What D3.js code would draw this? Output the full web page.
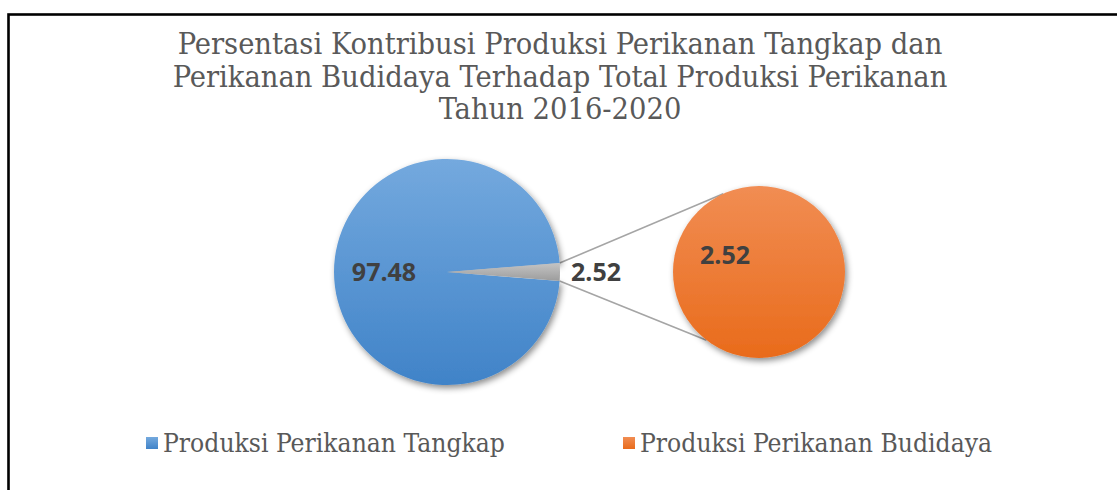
<!DOCTYPE html>
<html><head><meta charset="utf-8">
<script src="https://cdn.jsdelivr.net/npm/d3@7"></script>
<style>html,body{margin:0;padding:0;background:#fff;overflow:hidden}</style>
</head><body>
<svg id="c" width="1117" height="490"></svg>
<script>
const titleLines = ["Persentasi Kontribusi Produksi Perikanan Tangkap dan",
  "Perikanan Budidaya Terhadap Total Produksi Perikanan",
  "Tahun 2016-2020"];
const categories = ["Produksi Perikanan Tangkap", "Produksi Perikanan Budidaya"];
const mainValues = [97.48, 2.52];
const secondaryValues = [2.52];

const svg = d3.select("#c");
const defs = svg.append("defs");

function linGrad(id, c1, c2) {
  const g = defs.append("linearGradient").attr("id", id).attr("x1", 0).attr("y1", 0).attr("x2", 0).attr("y2", 1);
  g.append("stop").attr("offset", "0%").attr("stop-color", c1);
  g.append("stop").attr("offset", "100%").attr("stop-color", c2);
}
linGrad("gBlue", "#74a9de", "#4083c8");
linGrad("gOrange", "#f18d53", "#e96b1b");
linGrad("gGray", "#c4c4c4", "#9c9c9c");
const f = defs.append("filter").attr("id", "sh").attr("x", "-20%").attr("y", "-20%").attr("width", "140%").attr("height", "140%");
f.append("feDropShadow").attr("dx", 2).attr("dy", 3).attr("stdDeviation", 3).attr("flood-color", "#000").attr("flood-opacity", 0.45);

// frame
svg.append("rect").attr("x", 8.5).attr("y", 14.5).attr("width", 1200).attr("height", 600)
  .attr("fill", "none").attr("stroke", "#000").attr("stroke-width", 2.6);

// title
const titleFont = "'DejaVu Serif Condensed', 'DejaVu Serif', serif";
const tg = svg.append("g");
const tTexts = tg.selectAll("text").data(titleLines).join("text")
  .attr("x", 560).attr("y", (d, i) => 54 + i * 32.5)
  .attr("text-anchor", "middle").attr("fill", "#595959")
  .style("font-family", titleFont).style("font-stretch", "condensed").style("font-size", "24px").text(d => d);
const w0 = tTexts.nodes()[0].getComputedTextLength();
const tSize = 24 * 765 / w0;
tTexts.style("font-size", tSize + "px");

// main pie
const color = d3.scaleOrdinal().domain(["a", "b", "s"]).range(["url(#gBlue)", "url(#gGray)", "url(#gOrange)"]);
const cx1 = 447, cy1 = 272, r1 = 113;
const frac = mainValues[1] / d3.sum(mainValues);
const half = frac * Math.PI;
const a0 = Math.PI / 2 + half;
const pie = d3.pie().sort(null).startAngle(a0).endAngle(a0 + 2 * Math.PI);
const arcs = pie(mainValues);
const arc1 = d3.arc().innerRadius(0).outerRadius(r1);

const cx2 = 759, cy2 = 272, r2 = 86;

// connector lines
const sliceSmall = arcs[1];
const pt = (cx, cy, r, ang) => [cx + r * Math.sin(ang), cy - r * Math.cos(ang)];
const pTop = pt(cx1, cy1, r1, sliceSmall.startAngle);
const pBot = pt(cx1, cy1, r1, sliceSmall.endAngle);
const qT = pt(cx2, cy2, r2, (-24.5) * Math.PI / 180);
const qB = pt(cx2, cy2, r2, (-142.4) * Math.PI / 180);
svg.append("g").selectAll("line").data([[pTop, qT], [pBot, qB]]).join("line")
  .attr("x1", d => d[0][0]).attr("y1", d => d[0][1])
  .attr("x2", d => d[1][0]).attr("y2", d => d[1][1])
  .attr("stroke", "#a5a5a5").attr("stroke-width", 1.6);

const g1 = svg.append("g").attr("transform", `translate(${cx1},${cy1})`);
g1.selectAll("path").data(arcs).join("path")
  .attr("d", arc1).attr("fill", (d, i) => color(i === 0 ? "a" : "b"))
  .attr("filter", (d, i) => i === 0 ? "url(#sh)" : null);

// secondary pie
const pie2 = d3.pie().sort(null);
const arcs2 = pie2(secondaryValues);
const g2 = svg.append("g").attr("transform", `translate(${cx2},${cy2})`);
g2.selectAll("path").data(arcs2).join("path")
  .attr("d", d3.arc().innerRadius(0).outerRadius(r2)).attr("fill", color("s")).attr("filter", "url(#sh)");

// labels
const labFont = "'Open Sans', 'Liberation Sans', sans-serif";
const fmt = d3.format(".2f");
const labs = [[384, 281, arcs[0].data], [596, 281, arcs[1].data], [725, 264, arcs2[0].data]];
svg.append("g").selectAll("text").data(labs).join("text")
  .attr("x", d => d[0]).attr("y", d => d[1]).attr("text-anchor", "middle")
  .attr("fill", "#404040").style("font-family", labFont).style("font-weight", 700).style("font-size", "25px")
  .text(d => fmt(d[2]));

// legend
const legX = [146, 623];
const lg = svg.append("g").selectAll("g").data(categories).join("g")
  .attr("transform", (d, i) => `translate(${legX[i]},437)`);
lg.append("rect").attr("width", 12).attr("height", 12)
  .attr("fill", (d, i) => color(i === 0 ? "a" : "s"));
const lt = lg.append("text").attr("x", 17).attr("y", 15).attr("fill", "#595959")
  .style("font-family", titleFont).style("font-stretch", "condensed").style("font-size", "20px").text(d => d);
const lw = lt.nodes()[0].getComputedTextLength();
lt.style("font-size", (20 * 342 / lw) + "px");
</script>
</body></html>
